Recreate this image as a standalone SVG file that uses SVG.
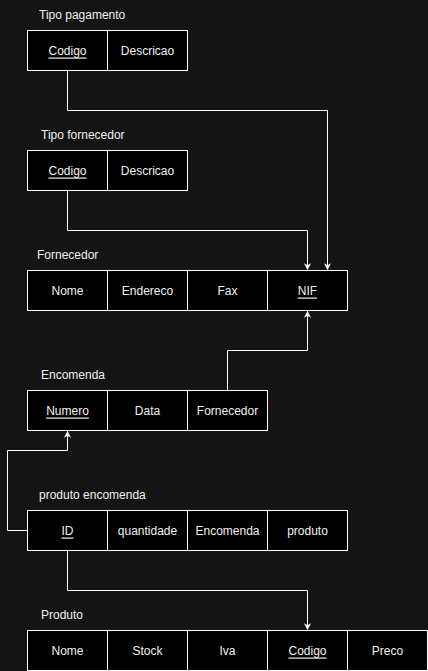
<svg xmlns="http://www.w3.org/2000/svg" width="428" height="671" viewBox="0 0 428 671">
<style>
.c{fill:#000;stroke:#fff;stroke-width:1}
.t{font-family:"Liberation Sans",Arial,sans-serif;font-size:12px;fill:#f0f0f0;text-anchor:middle;dominant-baseline:central}
.l{font-family:"Liberation Sans",Arial,sans-serif;font-size:12px;fill:#f0f0f0;dominant-baseline:central}
.u{text-decoration:underline}
.e{fill:none;stroke:#fff;stroke-width:1}
</style>
<defs>
<marker id="a" viewBox="0 0 10 10" refX="9" refY="5" markerWidth="7" markerHeight="7" markerUnits="userSpaceOnUse" orient="auto">
<path d="M0,0 L10,5 L0,10 L3,5 Z" fill="#fff"/>
</marker>
</defs>
<rect width="428" height="671" fill="#141414"/>
<g id="edges">
<path class="e" d="M67.5,70.5 V110.5 H327.5 V269.5" marker-end="url(#a)"/>
<path class="e" d="M67.5,190.5 V230.5 H307.5 V269.5" marker-end="url(#a)"/>
<path class="e" d="M227.5,390.5 V350.5 H307.5 V311.5" marker-end="url(#a)"/>
<path class="e" d="M27.5,530.5 H7.5 V450.5 H67.5 V431.5" marker-end="url(#a)"/>
<path class="e" d="M67.5,550.5 V590.5 H307.5 V629.5" marker-end="url(#a)"/>
</g>
<g id="tipo-pagamento">
<text class="l" x="39" y="15">Tipo pagamento</text>
<rect class="c" x="27.5" y="30.5" width="80" height="40"/>
<rect class="c" x="107.5" y="30.5" width="80" height="40"/>
<text class="t u" x="67.5" y="50.5">Codigo</text>
<text class="t" x="147.5" y="50.5">Descricao</text>
</g>
<g id="tipo-fornecedor">
<text class="l" x="41" y="135">Tipo fornecedor</text>
<rect class="c" x="27.5" y="150.5" width="80" height="40"/>
<rect class="c" x="107.5" y="150.5" width="80" height="40"/>
<text class="t u" x="67.5" y="170.5">Codigo</text>
<text class="t" x="147.5" y="170.5">Descricao</text>
</g>
<g id="fornecedor">
<text class="l" x="37" y="255">Fornecedor</text>
<rect class="c" x="27.5" y="270.5" width="80" height="40"/>
<rect class="c" x="107.5" y="270.5" width="80" height="40"/>
<rect class="c" x="187.5" y="270.5" width="80" height="40"/>
<rect class="c" x="267.5" y="270.5" width="80" height="40"/>
<text class="t" x="67.5" y="290.5">Nome</text>
<text class="t" x="147.5" y="290.5">Endereco</text>
<text class="t" x="227.5" y="290.5">Fax</text>
<text class="t u" x="307.5" y="290.5">NIF</text>
</g>
<g id="encomenda">
<text class="l" x="41" y="375">Encomenda</text>
<rect class="c" x="27.5" y="390.5" width="80" height="40"/>
<rect class="c" x="107.5" y="390.5" width="80" height="40"/>
<rect class="c" x="187.5" y="390.5" width="80" height="40"/>
<text class="t u" x="67.5" y="410.5">Numero</text>
<text class="t" x="147.5" y="410.5">Data</text>
<text class="t" x="227.5" y="410.5">Fornecedor</text>
</g>
<g id="produto-encomenda">
<text class="l" x="39" y="495">produto encomenda</text>
<rect class="c" x="27.5" y="510.5" width="80" height="40"/>
<rect class="c" x="107.5" y="510.5" width="80" height="40"/>
<rect class="c" x="187.5" y="510.5" width="80" height="40"/>
<rect class="c" x="267.5" y="510.5" width="80" height="40"/>
<text class="t u" x="67.5" y="530.5">ID</text>
<text class="t" x="147.5" y="530.5">quantidade</text>
<text class="t" x="227.5" y="530.5">Encomenda</text>
<text class="t" x="307.5" y="530.5">produto</text>
</g>
<g id="produto">
<text class="l" x="41" y="615">Produto</text>
<rect class="c" x="27.5" y="630.5" width="80" height="40"/>
<rect class="c" x="107.5" y="630.5" width="80" height="40"/>
<rect class="c" x="187.5" y="630.5" width="80" height="40"/>
<rect class="c" x="267.5" y="630.5" width="80" height="40"/>
<rect class="c" x="347.5" y="630.5" width="80" height="40"/>
<text class="t" x="67.5" y="650.5">Nome</text>
<text class="t" x="147.5" y="650.5">Stock</text>
<text class="t" x="227.5" y="650.5">Iva</text>
<text class="t u" x="307.5" y="650.5">Codigo</text>
<text class="t" x="387.5" y="650.5">Preco</text>
</g>
</svg>
